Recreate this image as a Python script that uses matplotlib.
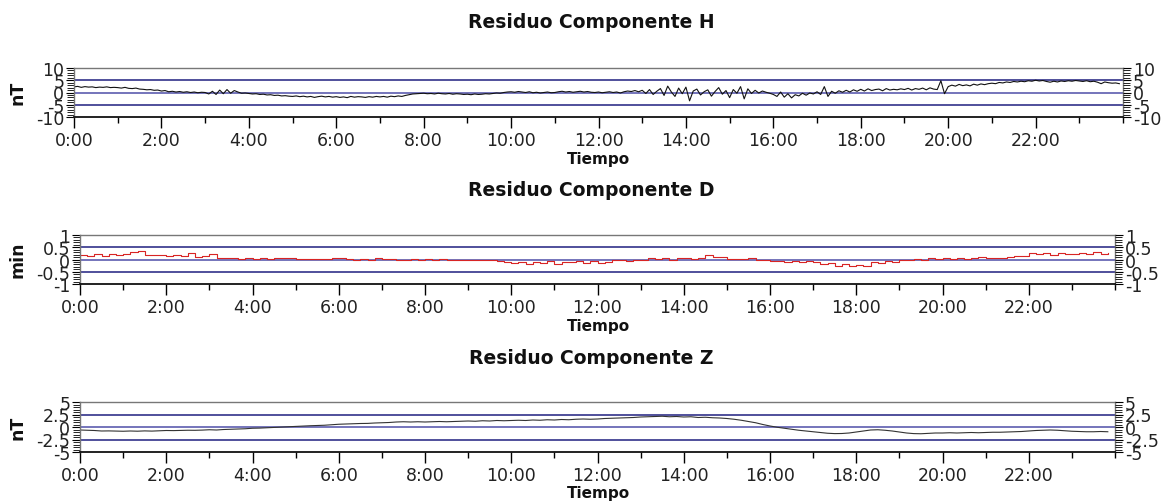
import numpy as np
import matplotlib
matplotlib.use("Agg")
import matplotlib.pyplot as plt
from matplotlib.ticker import MultipleLocator

# ---------------- data ----------------
titles = ["Residuo Componente H", "Residuo Componente D", "Residuo Componente Z"]
units = ["nT", "min", "nT"]
xlabel = "Tiempo"
hour_ticks = [0, 2, 4, 6, 8, 10, 12, 14, 16, 18, 20, 22]
hour_labels = ["0:00", "2:00", "4:00", "6:00", "8:00", "10:00", "12:00",
               "14:00", "16:00", "18:00", "20:00", "22:00"]

# H residual, 5-minute samples (nT)
h_values = [
    2.3, 2.5, 2.1, 2.4, 2.2, 2.3, 2.0, 2.2, 2.1, 2.3, 2.0, 2.1,
    2.0, 1.8, 2.1, 1.7, 1.6, 1.8, 1.4, 1.3, 1.1, 1.2, 0.9, 1.0,
    0.6, 0.8, 0.3, 0.5, 0.2, 0.4, 0.1, 0.3, 0.0, 0.2, -0.1, 0.1,
    0.0, -0.6, 0.5, -0.8, 1.0, -0.5, 1.2, -0.3, 0.8, 0.2, -0.3, -0.2,
    -0.4, -0.6, -0.5, -0.8, -0.7, -1.0, -0.9, -1.2, -1.1, -1.4, -1.3, -1.5,
    -1.6, -1.4, -1.7, -1.5, -1.8, -1.6, -2.0, -1.7, -1.5, -1.8, -1.6, -1.9,
    -1.7, -2.0, -1.8, -2.1, -1.6, -1.9, -1.7, -1.8, -2.0, -1.7, -1.9, -1.6,
    -1.8, -1.6, -1.9, -1.5, -1.7, -1.4, -1.6, -1.2, -0.9, -0.6, -0.5, -0.4,
    -0.3, -0.5, -0.4, -0.6, -0.3, -0.5, -0.6, -0.4, -0.7, -0.5, -0.6, -0.8,
    -0.7, -0.9, -0.6, -0.8, -0.7, -0.5, -0.6, -0.4, -0.2, -0.3, 0.0, 0.2,
    0.3, 0.1, 0.4, 0.2, 0.0, 0.3, -0.1, 0.1, -0.2, 0.0, 0.2, -0.1,
    0.0, 0.3, 0.5, 0.2, 0.4, 0.1, 0.3, 0.5, 0.2, 0.4, 0.1, 0.0,
    0.2, -0.1, 0.1, 0.3, 0.0, 0.2, -0.2, 0.3, 0.6, 0.4, 0.8, 0.3,
    0.9, -0.4, 1.2, -0.8, 0.5, 1.6, -1.2, 2.6, 0.2, -1.6, 1.8, -0.5,
    2.2, -3.4, 0.6, 1.4, -1.0, 0.3, 1.1, -1.5, 0.4, 2.0, -0.7, 0.8,
    -2.1, 1.2, -0.3, 2.4, -2.6, 1.5, -0.4, 0.9, -0.2, 0.6, 0.1, -0.3,
    -0.8, -1.6, 0.2, -1.9, -0.5, -2.2, -0.9, -1.4, -0.3, -1.1, -0.2, -0.6,
    0.3, -0.8, 2.4, -1.6, 0.5, -0.3, 0.7, 0.1, 0.9, 0.2, 1.1, 0.5,
    1.3, 0.6, 1.5, 0.8, 1.2, 1.4, 0.7, 1.6, 1.0, 1.3, 1.1, 1.5,
    1.2, 1.7, 1.0, 1.6, 1.3, 1.8, 1.1, 1.9, 1.4, 1.2, 4.8, -0.5,
    2.4, 3.0, 2.6, 3.3, 2.8, 3.1, 2.7, 3.4, 3.0, 3.5, 3.2, 3.6,
    3.8, 3.6, 4.1, 3.9, 4.3, 4.1, 4.5, 4.3, 4.6, 4.4, 4.8, 4.6,
    5.0, 4.7, 4.9, 4.5, 4.2, 4.6, 4.3, 4.7, 4.5, 4.8, 4.6, 4.9,
    4.7, 4.5, 4.8, 4.4, 4.6, 4.2, 3.6, 4.3, 4.0, 3.8, 3.9, 3.6,
]

# D residual, 10-minute samples (min of arc)
d_values = [
    0.20, 0.14, 0.22, 0.16, 0.21, 0.18,
    0.24, 0.31, 0.33, 0.20, 0.17, 0.17,
    0.13, 0.17, 0.16, 0.28, 0.10, 0.14,
    0.22, 0.08, 0.06, 0.06, 0.01, 0.06,
    0.04, 0.06, 0.03, 0.06, 0.06, 0.05,
    0.04, 0.03, 0.03, 0.01, 0.04, 0.08,
    0.05, 0.02, 0.00, 0.03, 0.00, 0.06,
    0.01, 0.02, 0.00, -0.02, 0.02, 0.00,
    0.02, 0.00, 0.02, -0.02, -0.02, -0.03,
    -0.02, -0.03, -0.04, -0.03, -0.08, -0.12,
    -0.16, -0.10, -0.17, -0.12, -0.15, -0.08,
    -0.18, -0.10, -0.12, -0.06, -0.14, -0.08,
    -0.15, -0.12, -0.04, -0.04, -0.05, 0.00,
    -0.01, 0.06, 0.02, 0.06, -0.01, 0.05,
    0.08, 0.02, 0.05, 0.18, 0.10, 0.09,
    0.03, 0.04, 0.02, 0.05, 0.00, -0.02,
    -0.05, -0.08, -0.10, -0.05, -0.10, -0.06,
    -0.12, -0.18, -0.14, -0.26, -0.20, -0.28,
    -0.22, -0.26, -0.10, -0.14, -0.08, -0.10,
    -0.03, -0.03, 0.02, -0.01, 0.08, 0.03,
    0.05, 0.02, 0.08, 0.04, 0.07, 0.10,
    0.06, 0.06, 0.06, 0.10, 0.16, 0.14,
    0.26, 0.22, 0.28, 0.20, 0.27, 0.22,
    0.24, 0.28, 0.22, 0.30, 0.24, 0.26,
]

# Z residual, 10-minute samples (nT)
z_values = [
    -0.60, -0.65, -0.70, -0.80, -0.78, -0.82,
    -0.85, -0.80, -0.84, -0.78, -0.82, -0.75,
    -0.70, -0.72, -0.68, -0.65, -0.66, -0.62,
    -0.55, -0.60, -0.50, -0.45, -0.40, -0.35,
    -0.25, -0.22, -0.15, -0.10, -0.02, 0.05,
    0.15, 0.20, 0.25, 0.30, 0.35, 0.45,
    0.55, 0.60, 0.65, 0.70, 0.72, 0.80,
    0.85, 0.90, 1.00, 1.05, 1.00, 1.05,
    1.00, 1.05, 1.10, 1.05, 1.10, 1.15,
    1.20, 1.15, 1.25, 1.20, 1.30, 1.25,
    1.30, 1.35, 1.30, 1.40, 1.35, 1.45,
    1.40, 1.50, 1.45, 1.55, 1.60, 1.55,
    1.60, 1.70, 1.75, 1.80, 1.85, 1.90,
    2.00, 2.05, 2.10, 2.15, 2.05, 2.10,
    2.00, 2.05, 1.90, 1.95, 1.85, 1.80,
    1.70, 1.55, 1.35, 1.10, 0.85, 0.50,
    0.20, -0.05, -0.25, -0.45, -0.65, -0.80,
    -0.95, -1.10, -1.25, -1.32, -1.30, -1.20,
    -1.00, -0.80, -0.60, -0.55, -0.65, -0.80,
    -1.00, -1.20, -1.32, -1.35, -1.28, -1.20,
    -1.20, -1.15, -1.20, -1.15, -1.10, -1.15,
    -1.10, -1.05, -1.05, -1.00, -0.95, -0.90,
    -0.80, -0.70, -0.65, -0.60, -0.65, -0.75,
    -0.85, -0.90, -0.95, -0.95, -0.90, -0.95,
]

limits = [10, 1, 5]
bands = [5, 0.5, 2.5]
minor_steps = [1, 0.1, 0.5]
y_ticks = [[-10, -5, 0, 5, 10], [-1, -0.5, 0, 0.5, 1], [-5, -2.5, 0, 2.5, 5]]
y_labels = [["-10", "-5", "0", "5", "10"], ["-1", "-0.5", "0", "0.5", "1"],
            ["-5", "-2.5", "0", "2.5", "5"]]
series = [h_values, d_values, z_values]
step_minutes = [5, 10, 10]
colors = ["#111111", "#d82424", "#333333"]

# ---------------- figure ----------------
W, H = 1167, 502
fig = plt.figure(figsize=(W / 100, H / 100), dpi=100)

boxes = [(74, 1123, 69, 118), (80, 1115, 236, 285), (80, 1115, 403, 453)]
title_y = [22, 190, 358]
tiempo_y = [160, 327, 494]
unit_y = [93, 260, 428]

navy = "#1f1f80"
zero_c = "#7474bb"

for i in range(3):
    x0, x1, yt, yb = boxes[i]
    ax = fig.add_axes([x0 / W, 1 - yb / H, (x1 - x0) / W, (yb - yt) / H])
    vals = np.array(series[i])
    t = np.arange(len(vals)) * step_minutes[i] / 60.0
    lim = limits[i]
    ax.axhline(bands[i], color=navy, lw=1.1, zorder=1)
    ax.axhline(-bands[i], color=navy, lw=1.1, zorder=1)
    ax.axhline(0, color=zero_c, lw=1.4, zorder=1)
    if i == 1:
        ax.plot(t, vals, color=colors[i], lw=0.8, drawstyle="steps-post", zorder=2)
    else:
        ax.plot(t, vals, color=colors[i], lw=0.8, zorder=2)
    ax.set_xlim(0, 24)
    ax.set_ylim(-lim, lim)
    ax.set_xticks(hour_ticks)
    ax.set_xticklabels(hour_labels, fontsize=12.5, color="#222222")
    ax.xaxis.set_minor_locator(MultipleLocator(1))
    ax.tick_params(axis="x", which="major", length=8, width=1, direction="out", pad=2)
    ax.tick_params(axis="x", which="minor", length=4, width=1, direction="out")
    ax.set_yticks(y_ticks[i])
    ax.set_yticklabels(y_labels[i], fontsize=12.5, color="#222222")
    ax.yaxis.set_minor_locator(MultipleLocator(minor_steps[i]))
    ax.tick_params(axis="y", which="major", length=6, width=0.8, pad=1, direction="out")
    ax.tick_params(axis="y", which="minor", length=5, width=0.6, direction="out")
    for s in ("top", "left", "right"):
        ax.spines[s].set_color("#777777")
        ax.spines[s].set_linewidth(1.0)
    ax.spines["bottom"].set_color("#111111")
    ax.spines["bottom"].set_linewidth(1.3)

    ax2 = ax.twinx()
    ax2.set_ylim(-lim, lim)
    ax2.set_yticks(y_ticks[i])
    ax2.set_yticklabels(y_labels[i], fontsize=12.5, color="#222222")
    ax2.yaxis.set_minor_locator(MultipleLocator(minor_steps[i]))
    ax2.tick_params(axis="y", which="major", length=6, width=0.8, pad=1, direction="out")
    ax2.tick_params(axis="y", which="minor", length=5, width=0.6, direction="out")
    for s in ax2.spines.values():
        s.set_visible(False)

    fig.text(591 / W, 1 - title_y[i] / H, titles[i], ha="center", va="center",
             fontsize=13.5, fontweight="bold", color="#111111")
    fig.text(598 / W, 1 - tiempo_y[i] / H, xlabel, ha="center", va="center",
             fontsize=11, fontweight="bold", color="#111111")
    fig.text(18 / W, 1 - unit_y[i] / H, units[i], ha="center", va="center",
             rotation=90, fontsize=12.5, fontweight="bold", color="#111111")

fig.savefig("out.png", dpi=100)
